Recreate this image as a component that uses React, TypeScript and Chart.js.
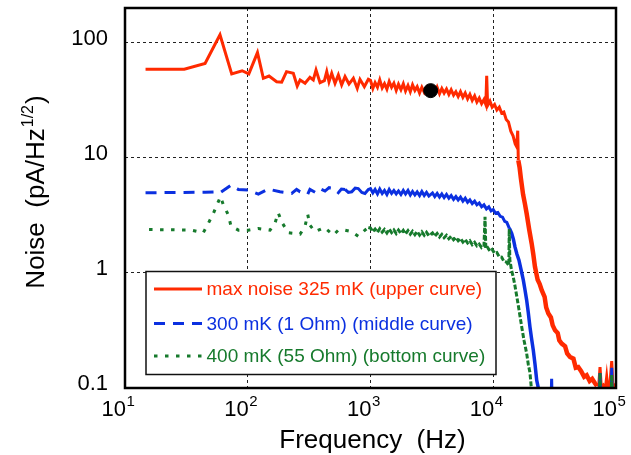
import React, { useEffect, useRef } from "react";
import { Chart, registerables } from "chart.js";

Chart.register(...registerables);

const FONT = '"Liberation Sans", Arial, Helvetica, sans-serif';

const RED = "#ff2a00";
const BLUE = "#0b30e0";
const GREEN = "#167a2c";

const xTickValues = [10, 100, 1000, 10000, 100000];
const xTickExponents = ["1", "2", "3", "4", "5"];
const yTickValues = [0.1, 1, 10, 100];
const yTickLabels = ["0.1", "1", "10", "100"];

const xTitle = "Frequency  (Hz)";
const yTitleMain = "Noise  (pA/Hz";
const yTitleSup = "1/2";
const yTitleEnd = ")";

const legendLabels = [
  "max noise 325 mK (upper curve)",
  "300 mK (1 Ohm) (middle curve)",
  "400 mK (55 Ohm) (bottom curve)",
];

// upper curve (red)
const redFreq = [
  14.7, 30.4, 44.9, 59.4, 74, 90, 102, 120, 134, 149,
  172, 189, 207, 235, 253, 267, 293, 321, 342, 360,
  388, 421, 440, 459, 483, 514, 547, 582, 620, 668,
  725, 780, 821, 891, 960, 1000, 1045, 1090, 1140, 1190,
  1245, 1300, 1360, 1420, 1485, 1550, 1620, 1690, 1770, 1850,
  1930, 2020, 2110, 2200, 2300, 2400, 2510, 2620, 2740, 2860,
  2990, 3090, 3200, 3340, 3490, 3650, 3810, 3980, 4160, 4350,
  4540, 4750, 4960, 5180, 5410, 5660, 5910, 6180, 6450, 6740,
  7050, 7360, 7690, 8040, 8400, 8700, 8843, 9000, 9400, 9800,
  10250, 10700, 11200, 11700, 12200, 12750, 13300, 13900, 14500, 15100,
  15500, 15830, 16000, 16400, 16800, 17500, 18100, 18710, 19600, 20560,
  21200, 21870, 23000, 23900, 24820, 26200, 27000, 28120, 29500, 30500,
  31870, 33500, 34500, 36120, 38500, 40000, 42200, 45000, 47000, 49300,
  52000, 55000, 57700, 61000, 64000, 67400, 70000, 72500, 74100, 76000,
  79000, 82000, 84000, 86000, 89000, 92300, 94500, 97000, 100000,
];
const redNoise = [
  58.8, 58.8, 66, 117, 53.5, 57, 53.5, 82, 49, 51.3,
  45.8, 45.3, 56, 54.2, 42, 47.4, 44.4, 50, 47.4, 57.9,
  44.9, 46.8, 56, 45.8, 54.2, 44.4, 52.5, 42.9, 50.7, 43.7,
  49, 40.1, 48, 41.4, 48, 47, 40, 45, 41, 47.5,
  40.5, 44, 39.5, 46, 41, 44.5, 38.5, 43.5, 39, 44,
  38, 42.5, 37.5, 43, 38.5, 41.5, 36.5, 41, 37, 40.5,
  37, 38.3, 40, 36.5, 41, 36, 40, 36.5, 39.5, 35.5,
  39, 35, 37.5, 34, 37.5, 33.5, 36.5, 32.5, 35.5, 31.5,
  34.5, 30.5, 33, 29.5, 32, 29, 51.6, 28.5, 31, 27.5,
  29, 26, 27.5, 24.5, 25, 21.5, 20.5, 17, 15.5, 13.2,
  12.5, 17.2, 9.5, 8.2, 6.6, 4.8, 4.0, 3.28, 2.4, 1.8,
  1.45, 1.13, 0.87, 0.8, 0.708, 0.62, 0.5, 0.444, 0.41, 0.35,
  0.318, 0.3, 0.26, 0.243, 0.23, 0.2, 0.186, 0.18, 0.15, 0.152,
  0.14, 0.125, 0.129, 0.115, 0.12, 0.11, 0.104, 0.108, 0.152, 0.1,
  0.106, 0.1, 0.125, 0.098, 0.104, 0.171, 0.1, 0.105, 0.1,
];

// middle curve (blue)
const blueFreq = [
  14.7, 30, 45, 55.8, 59.4, 73.1, 83.8, 101, 122, 147,
  183, 228, 250, 267, 308, 321, 355, 388, 426, 460,
  497, 547, 580, 620, 660, 703, 750, 795, 850, 901,
  960, 1000, 1045, 1090, 1140, 1190, 1245, 1300, 1360, 1420,
  1485, 1550, 1620, 1690, 1770, 1850, 1930, 2020, 2110, 2200,
  2300, 2400, 2510, 2620, 2740, 2860, 2990, 3200, 3340, 3490,
  3650, 3810, 3980, 4160, 4350, 4540, 4750, 4960, 5180, 5410,
  5660, 5910, 6180, 6450, 6740, 7050, 7360, 7690, 8040, 8400,
  8800, 9200, 9600, 10000, 10450, 10900, 11400, 11900, 12400, 12900,
  13500, 14130, 14600, 15030, 15600, 16200, 16900, 17580, 18100, 18710,
  19300, 19910, 20500, 21200, 21900, 22590, 23300, 24500, 27000, 29500,
  29900, 30300, 40000, 55000, 73000, 74100, 75200, 91000, 92300, 93600,
  100000,
];
const blueNoise = [
  4.97, 5.0, 5.02, 5.06, 4.97, 5.79, 5.31, 5.24, 4.83, 5.35,
  5.06, 4.9, 5.31, 5.06, 4.83, 5.31, 5.0, 5.4, 5.14, 5.5,
  5.44, 4.97, 5.35, 5.31, 5.0, 5.06, 5.45, 5.4, 5.0, 4.9,
  5.3, 5.4, 4.95, 5.3, 4.85, 5.35, 4.9, 5.2, 4.8, 5.3,
  4.9, 5.2, 4.85, 5.15, 4.8, 5.2, 4.85, 5.2, 4.75, 5.1,
  4.75, 5.05, 4.7, 5.1, 4.7, 5.0, 4.65, 4.95, 4.6, 4.9,
  4.55, 4.85, 4.5, 4.8, 4.45, 4.7, 4.35, 4.6, 4.3, 4.55,
  4.2, 4.45, 4.1, 4.3, 4.0, 4.2, 3.9, 4.05, 3.75, 3.9,
  3.6, 3.75, 3.45, 3.55, 3.3, 3.35, 3.1, 3.05, 2.8, 2.75,
  2.45, 2.2, 1.95, 1.68, 1.45, 1.29, 1.05, 0.865, 0.72, 0.58,
  0.45, 0.339, 0.27, 0.213, 0.16, 0.117, 0.1, 0.075, 0.065, 0.07,
  0.12, 0.065, 0.06, 0.06, 0.06, 0.135, 0.06, 0.06, 0.15, 0.06,
  0.06,
];

// bottom curve (green)
const greenFreq = [
  15.7, 25, 34.9, 43.4, 47.7, 52.4, 57.5, 60, 63, 69.5,
  73, 84, 101, 122, 152, 167, 177, 189, 214, 267,
  293, 308, 321, 353, 421, 497, 547, 620, 703, 795,
  901, 960, 1000, 1045, 1090, 1140, 1190, 1245, 1300, 1360,
  1420, 1485, 1550, 1620, 1690, 1770, 1850, 1930, 2020, 2110,
  2200, 2300, 2400, 2510, 2620, 2740, 2860, 2990, 3200, 3340,
  3490, 3650, 3810, 3980, 4160, 4350, 4540, 4750, 4960, 5180,
  5410, 5660, 5910, 6180, 6450, 6740, 7050, 7360, 7690, 8040,
  8400, 8570, 8700, 9000, 9400, 9800, 10250, 10700, 11200, 11700,
  12200, 12800, 13400, 13500, 13650, 14100, 14560, 15000, 15490, 16200,
  17060, 17800, 18710, 19300, 19910, 20400, 21500, 25000, 40000, 73000,
  74100, 75200, 91000, 92300, 93600, 100000,
];
const greenNoise = [
  2.38, 2.37, 2.35, 2.23, 2.69, 3.28, 4.14, 4.6, 3.95, 3.18,
  2.55, 2.35, 2.35, 2.43, 2.35, 2.72, 3.33, 2.77, 2.23, 2.17,
  2.55, 3.22, 2.6, 2.28, 2.48, 2.13, 2.35, 2.35, 2.28, 2.08,
  2.35, 2.48, 2.45, 2.28, 2.4, 2.25, 2.42, 2.26, 2.38, 2.22,
  2.4, 2.24, 2.36, 2.2, 2.35, 2.2, 2.34, 2.18, 2.33, 2.17,
  2.3, 2.15, 2.29, 2.13, 2.27, 2.12, 2.25, 2.1, 2.22, 2.08,
  2.2, 2.05, 2.16, 2.02, 2.12, 1.98, 2.08, 1.94, 2.03, 1.9,
  1.99, 1.85, 1.95, 1.82, 1.9, 1.76, 1.84, 1.72, 1.78, 1.66,
  1.72, 3.07, 1.62, 1.66, 1.55, 1.6, 1.48, 1.5, 1.38, 1.37,
  1.26, 1.24, 1.16, 2.4, 1.3, 1.05, 0.92, 0.78, 0.64, 0.48,
  0.339, 0.26, 0.2, 0.16, 0.136, 0.102, 0.075, 0.06, 0.06, 0.06,
  0.135, 0.06, 0.06, 0.13, 0.06, 0.06,
];

// marked operating point
const markerFreq = [3090];
const markerNoise = [38.3];

const toPoints = (xs: number[], ys: number[]) => xs.map((x, i) => ({ x, y: ys[i] }));

const BLUE_DASH = [11, 8];
const GREEN_DOT = [3.5, 7.5];

const overlayPlugin = {
  id: "overlay",
  afterDatasetsDraw(chart: any) {
    const { ctx, chartArea: a } = chart;
    ctx.save();
    // legend box
    const lx = a.left + 21;
    const ly = a.top + 263.5;
    const lw = 350;
    const lh = 103;
    ctx.fillStyle = "#ffffff";
    ctx.fillRect(lx, ly, lw, lh);
    ctx.strokeStyle = "#111111";
    ctx.lineWidth = 1.5;
    ctx.setLineDash([]);
    ctx.strokeRect(lx, ly, lw, lh);
    const rows = [ly + 17.5, ly + 52, ly + 84.5];
    const colors = [RED, BLUE, GREEN];
    const dashes = [[], BLUE_DASH, GREEN_DOT];
    for (let i = 0; i < 3; i++) {
      ctx.beginPath();
      ctx.strokeStyle = colors[i];
      ctx.lineWidth = 3;
      ctx.lineCap = "butt";
      ctx.setLineDash(dashes[i]);
      ctx.moveTo(lx + 8, rows[i]);
      ctx.lineTo(lx + 56, rows[i]);
      ctx.stroke();
      ctx.setLineDash([]);
      ctx.fillStyle = colors[i];
      ctx.font = `19px ${FONT}`;
      ctx.textAlign = "left";
      ctx.textBaseline = "middle";
      ctx.fillText(legendLabels[i], lx + 60.5, rows[i] + 1);
    }
    ctx.restore();
  },
  afterDraw(chart: any) {
    const { ctx, chartArea: a, scales } = chart;
    ctx.save();
    // frame
    ctx.setLineDash([]);
    ctx.strokeStyle = "#000000";
    ctx.lineWidth = 2.5;
    ctx.strokeRect(a.left, a.top, a.right - a.left, a.bottom - a.top);

    // x tick labels 10^n
    ctx.fillStyle = "#000000";
    ctx.textBaseline = "alphabetic";
    xTickValues.forEach((v, i) => {
      const px = scales.x.getPixelForValue(v);
      ctx.font = `22px ${FONT}`;
      ctx.textAlign = "right";
      ctx.fillText("10", px + 1, a.bottom + 28);
      ctx.font = `15px ${FONT}`;
      ctx.textAlign = "left";
      ctx.fillText(xTickExponents[i], px + 1.5, a.bottom + 18);
    });

    // x title
    ctx.font = `26px ${FONT}`;
    ctx.textAlign = "center";
    ctx.fillText(xTitle, (a.left + a.right) / 2 + 2, a.bottom + 60);

    // y title (rotated) with superscript
    ctx.save();
    ctx.font = `26px ${FONT}`;
    const w1 = ctx.measureText(yTitleMain).width;
    ctx.font = `16px ${FONT}`;
    const w2 = ctx.measureText(yTitleSup).width;
    ctx.font = `26px ${FONT}`;
    const w3 = ctx.measureText(yTitleEnd).width;
    const total = w1 + w2 + w3 + 2;
    const cy = 192;
    ctx.translate(44, cy + total / 2);
    ctx.rotate(-Math.PI / 2);
    ctx.textAlign = "left";
    ctx.textBaseline = "alphabetic";
    ctx.fillText(yTitleMain, 0, 0);
    ctx.font = `16px ${FONT}`;
    ctx.fillText(yTitleSup, w1 + 1, -11);
    ctx.font = `26px ${FONT}`;
    ctx.fillText(yTitleEnd, w1 + w2 + 2, 0);
    ctx.restore();

    ctx.restore();
  },
};

export default function App() {
  const canvasRef = useRef<HTMLCanvasElement | null>(null);

  useEffect(() => {
    const canvas = canvasRef.current;
    if (!canvas) return;
    const gridCfg = { color: "#222222", lineWidth: 1, drawTicks: false };
    const chart = new Chart(canvas, {
      type: "line",
      data: {
        datasets: [
          {
            label: "operating point",
            data: toPoints(markerFreq, markerNoise),
            showLine: false,
            pointRadius: 7,
            pointBackgroundColor: "#000000",
            pointBorderColor: "#000000",
            borderColor: "#000000",
          },
          {
            label: legendLabels[2],
            data: toPoints(greenFreq, greenNoise),
            borderColor: GREEN,
            borderWidth: 3,
            borderDash: GREEN_DOT,
            pointRadius: 0,
            tension: 0,
            clip: 0,
            segment: {
              borderDash: (c: any) => (c.p0.parsed.x >= 950 ? [5, 2] : undefined),
            },
          },
          {
            label: legendLabels[1],
            data: toPoints(blueFreq, blueNoise),
            borderColor: BLUE,
            borderWidth: 3,
            borderDash: BLUE_DASH,
            pointRadius: 0,
            tension: 0,
            clip: 0,
            segment: {
              borderDash: (c: any) => (c.p0.parsed.x >= 600 ? [] : undefined),
              borderWidth: (c: any) => (c.p0.parsed.x >= 13000 && c.p0.parsed.x < 23000 ? 3.5 : undefined),
            },
          },
          {
            label: legendLabels[0],
            data: toPoints(redFreq, redNoise),
            borderColor: RED,
            borderWidth: 3,
            pointRadius: 0,
            tension: 0,
            clip: 0,
            segment: {
              borderWidth: (c: any) => (c.p0.parsed.x >= 16000 && c.p0.parsed.x < 70000 ? 4.5 : undefined),
            },
          },
        ],
      },
      options: {
        animation: false,
        responsive: false,
        devicePixelRatio: 1,
        events: [],
        layout: { padding: { left: 0, right: 15, top: 7, bottom: 0 } },
        plugins: {
          legend: { display: false },
          tooltip: { enabled: false },
          title: { display: false },
        },
        scales: {
          x: {
            type: "logarithmic",
            min: 10,
            max: 100000,
            afterBuildTicks: (s: any) => {
              s.ticks = xTickValues.map((v) => ({ value: v }));
            },
            afterFit: (s: any) => {
              s.height = 67;
              s.paddingLeft = 0;
              s.paddingRight = 0;
              s.paddingTop = 0;
              s.paddingBottom = 0;
            },
            ticks: { display: false },
            grid: gridCfg,
            border: { display: false, dash: [3, 3] },
          },
          y: {
            type: "logarithmic",
            min: 0.1,
            max: 200,
            afterBuildTicks: (s: any) => {
              s.ticks = yTickValues.map((v) => ({ value: v }));
            },
            afterFit: (s: any) => {
              s.width = 125;
              s.paddingLeft = 0;
              s.paddingRight = 0;
              s.paddingTop = 0;
              s.paddingBottom = 0;
            },
            ticks: {
              color: "#000000",
              font: { family: FONT, size: 22 },
              padding: 17,
              labelOffset: -4,
              callback: (v: any) => {
                const idx = yTickValues.indexOf(Number(v));
                return idx >= 0 ? yTickLabels[idx] : "";
              },
            },
            grid: gridCfg,
            border: { display: false, dash: [3, 3] },
          },
        },
      },
      plugins: [overlayPlugin],
    } as any);
    return () => chart.destroy();
  }, []);

  return (
    <div
      style={{
        position: "absolute",
        left: 0,
        top: 0,
        width: 631,
        height: 455,
        background: "#ffffff",
      }}
    >
      <canvas ref={canvasRef} width={631} height={455} style={{ display: "block" }} />
    </div>
  );
}
